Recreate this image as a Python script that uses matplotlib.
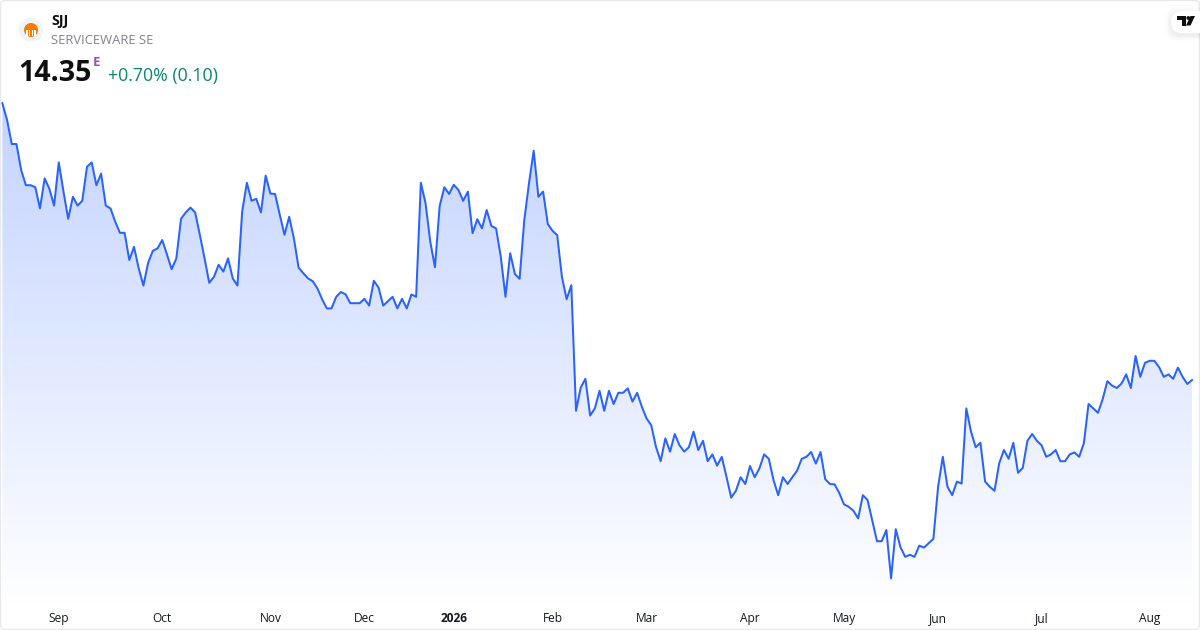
import numpy as np
import matplotlib
matplotlib.use('Agg')
import matplotlib.pyplot as plt
from matplotlib.patches import Circle, FancyBboxPatch, Polygon, Rectangle

# daily closes
closes = [
    21.27, 20.85, 20.25, 20.25, 19.60, 19.22, 19.22, 19.17, 18.64, 19.39, 19.13, 18.71,
    19.79, 19.06, 18.38, 18.93, 18.71, 18.83, 19.68, 19.79, 19.22, 19.51, 18.71, 18.64,
    18.31, 18.03, 18.03, 17.35, 17.68, 17.14, 16.71, 17.28, 17.58, 17.64, 17.85, 17.49,
    17.12, 17.39, 18.38, 18.54, 18.66, 18.54, 17.98, 17.39, 16.78, 16.93, 17.23, 17.06,
    17.39, 16.89, 16.71, 18.56, 19.28, 18.83, 18.88, 18.54, 19.46, 19.01, 19.00, 18.48,
    17.98, 18.43, 17.89, 17.16,
    17.02, 16.89, 16.82, 16.64, 16.37, 16.14, 16.14, 16.43, 16.55, 16.49, 16.27, 16.27,
    16.27, 16.38, 16.21, 16.83, 16.66, 16.21, 16.32, 16.43, 16.14, 16.38, 16.14, 16.49,
    16.43, 19.28, 18.77, 17.81, 17.17, 18.70, 19.17, 19.00, 19.23, 19.10, 18.83, 19.06,
    18.02, 18.37, 18.14, 18.60, 18.20, 18.14, 17.43, 16.43, 17.52, 17.00, 16.88, 18.35,
    19.27, 20.08, 18.93, 19.06, 18.25, 18.08, 17.97, 16.93, 16.37, 16.72,
    13.58, 14.16, 14.38, 13.46, 13.64, 14.08, 13.58, 14.08, 13.75, 14.03, 14.03, 14.14,
    13.81, 14.03, 13.68, 13.39, 13.22, 12.68, 12.32, 12.89, 12.56, 13.00, 12.72, 12.56,
    12.67, 13.06, 12.60, 12.83, 12.32, 12.49, 12.21, 12.43, 11.93, 11.41, 11.58, 11.92,
    11.75, 12.20, 11.92, 12.14, 12.49, 12.38, 11.85, 11.47, 11.92, 11.75, 11.92, 12.08,
    12.38, 12.43, 12.55, 12.26, 12.55, 11.87, 11.75, 11.74, 11.52, 11.24, 11.18, 11.08,
    10.89, 11.47, 11.35, 10.83, 10.32, 10.32, 10.60,
    9.39, 10.62, 10.17, 9.93, 9.98, 9.93, 10.21, 10.16, 10.27, 10.38, 11.68, 12.43,
    11.68, 11.47, 11.81, 11.76, 13.64, 13.06, 12.67, 12.78, 11.81, 11.68, 11.58, 12.27,
    12.60, 12.38, 12.78, 12.03, 12.15, 12.83, 13.00, 12.83, 12.72, 12.43, 12.49, 12.60,
    12.32, 12.32, 12.49, 12.54, 12.43, 12.77, 13.75, 13.64, 13.53, 13.87, 14.32, 14.21,
    14.15, 14.26, 14.49, 14.15, 14.95, 14.43, 14.78, 14.83, 14.83, 14.67, 14.43, 14.49,
    14.38, 14.66, 14.43, 14.25, 14.35,
]
tick_days = [12, 34, 57, 77, 96, 117, 137, 159, 179, 199, 221, 244]
tick_labels = ['Sep', 'Oct', 'Nov', 'Dec', '2026', 'Feb', 'Mar', 'Apr', 'May', 'Jun', 'Jul', 'Aug']

plt.rcParams['font.family'] = ['Open Sans', 'DejaVu Sans']

fig = plt.figure(figsize=(12, 6.3), dpi=100)
ax = fig.add_axes([0, 0, 1, 1])
days = np.arange(len(closes))
ax.axis('off')

# area fill: vertical gradient clipped to the area under the line
top_rgb = np.array([41, 98, 255]) / 255
grad = np.ones((256, 1, 4))
grad[..., :3] = top_rgb
grad[..., 3] = np.linspace(0.28, 0.0, 256).reshape(-1, 1)
im = ax.imshow(grad, extent=(-0.5, 254.7, 8.6, max(closes)), aspect='auto', zorder=1,
               interpolation='bilinear')
area = Polygon(np.vstack([[0, 8.10], np.column_stack([days, closes]), [days[-1], 8.10]]),
               closed=True, transform=ax.transData, fc='none', ec='none')
ax.add_patch(area)
im.set_clip_path(area)
ax.set_xlim(-0.5, 254.7)
ax.set_ylim(8.10, 23.85)

ax.plot(days, closes, color='#2962FF', lw=1.45, zorder=3, solid_joinstyle='round')

for d, lab in zip(tick_days, tick_labels):
    ax.text(d, 8.10 + 11.8 * 0.025, lab, ha='center', va='center', fontsize=8.6, color='#131722',
            fontweight='bold' if lab == '2026' else 'normal', zorder=4)

# header and frame, in pixel coordinates
ov = fig.add_axes([0, 0, 1, 1], facecolor='none')
ov.set_xlim(0, 1200)
ov.set_ylim(630, 0)
ov.axis('off')

ov.add_patch(FancyBboxPatch((0.5, 0.5), 1199, 629, boxstyle='round,pad=0,rounding_size=5',
                            fc='none', ec='#E6E8EC', lw=0.9, zorder=6))

ov.add_patch(Circle((31, 30), 12, fc='#F0F3FA', ec='none', zorder=5))
ov.add_patch(Circle((31, 30), 7, fc='#F57C00', ec='none', zorder=6))
for x in (27, 29.7, 32.4, 35):
    ov.add_patch(Rectangle((x - 0.6, 30), 1.2, 6, fc='#FFFFFF', ec='none', zorder=7))

ov.text(51, 21, 'SJJ', fontsize=10.3, fontweight='bold', color='#0F0F0F', va='center', ha='left')
ov.text(51, 41, 'SERVICEWARE SE', fontsize=9.4, color='#808389', va='center', ha='left')
ov.text(18.5, 73.5, '14.35', fontsize=20.5, fontweight='bold', color='#0F0F0F', va='center', ha='left')
ov.text(93, 62, 'E', fontsize=9.5, fontweight='bold', color='#AB47BC', va='center', ha='left')
ov.text(108, 76, '+0.70% (0.10)', fontsize=12.8, color='#0A8572', va='center', ha='left')

# TradingView badge at top right
for grow, a in ((6, 0.008), (4.5, 0.012), (3, 0.018), (1.5, 0.025)):
    ov.add_patch(FancyBboxPatch((1171 - grow, 11 - grow + 2), 60 + grow, 22 + 2 * grow,
                                boxstyle='round,pad=0,rounding_size=11', fc='#000000', ec='none',
                                alpha=a, zorder=7))
ov.add_patch(FancyBboxPatch((1171, 11), 60, 22, boxstyle='round,pad=0,rounding_size=11',
                            fc='#FFFFFF', ec='none', zorder=8))
tv_t = [(1177, 16), (1186, 16), (1186, 25.5), (1182, 25.5), (1182, 20), (1177, 20)]
tv_v = [(1190.5, 16), (1195, 16), (1190.5, 25.5), (1186, 25.5)]
ov.add_patch(Polygon(tv_t, closed=True, fc='#0F0F0F', ec='none', zorder=9))
ov.add_patch(Polygon(tv_v, closed=True, fc='#0F0F0F', ec='none', zorder=9))
ov.add_patch(Circle((1188.3, 18), 1.9, fc='#0F0F0F', ec='none', zorder=9))

fig.savefig('out.png', dpi=100)
